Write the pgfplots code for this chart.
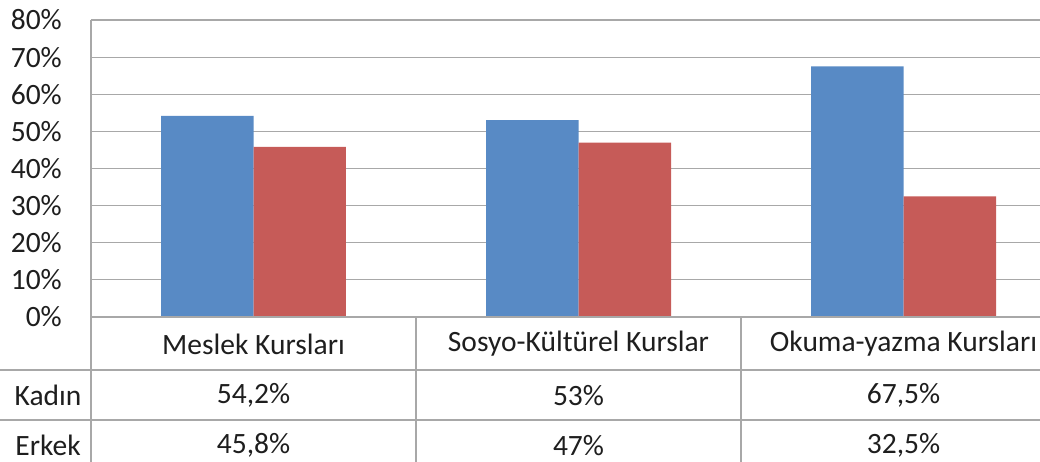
\documentclass[border=0pt]{standalone}
\usepackage{fontspec}
\setmainfont{Carlito}
\usepackage{pgfplots}
\pgfplotsset{compat=1.18}
\definecolor{kadin}{RGB}{88,138,197}
\definecolor{erkek}{RGB}{198,91,88}
\definecolor{gridgray}{RGB}{168,168,168}
\definecolor{txt}{RGB}{30,30,30}

\begin{document}
\begin{tikzpicture}[font=\fontsize{29.5}{34}\selectfont, text=txt]
\path[use as bounding box] (-91pt,-144pt) rectangle (949pt,317pt);
\begin{axis}[
  scale only axis,
  width=949pt,
  height=297pt,
  xmin=-0.5, xmax=2.42,
  ymin=0, ymax=80,
  ytick={0,10,...,80},
  yticklabels={0\%,10\%,20\%,30\%,40\%,50\%,60\%,70\%,80\%},
  xtick=\empty,
  major tick length=0pt,
  yticklabel style={anchor=east, inner sep=0pt, xshift=-29pt, text=txt},
  ymajorgrids,
  grid style={gridgray, line width=1.2pt},
  axis line style={draw=none},
  clip=false,
  ybar,
  bar width=0.2846,
]
\addplot[fill=kadin, draw=none, bar shift=-0.1423] coordinates {(0,54.2) (1,53) (2,67.5)};
\addplot[fill=erkek, draw=none, bar shift=0.1423] coordinates {(0,45.8) (1,47) (2,32.5)};

% table lines
\draw[gridgray, line width=1.2pt] (axis cs:-0.5,80) -- (axis cs:-0.5,-40);
\draw[gridgray, line width=1.2pt] (axis cs:0.5,0) -- (axis cs:0.5,-40);
\draw[gridgray, line width=1.2pt] (axis cs:1.5,0) -- (axis cs:1.5,-40);
\draw[gridgray, line width=1.2pt] (axis cs:-0.5,0) -- (axis cs:2.5,0);
\draw[gridgray, line width=1.2pt] (axis cs:-0.8,-14.28) -- (axis cs:2.5,-14.28);
\draw[gridgray, line width=1.2pt] (axis cs:-0.8,-27.74) -- (axis cs:2.5,-27.74);

% category names
\node at (axis cs:0,-7.27) {Meslek Kursları};
\node at (axis cs:1,-7.27) {Sosyo-Kültürel Kurslar};
\node at (axis cs:2,-7.27) {Okuma-yazma Kursları};
% row labels
\node at (axis cs:-0.632,-21.2) {Kadın};
\node at (axis cs:-0.632,-34.6) {Erkek};
% values
\node at (axis cs:0,-21.2) {54,2\%};
\node at (axis cs:1,-21.2) {53\%};
\node at (axis cs:2,-21.2) {67,5\%};
\node at (axis cs:0,-34.6) {45,8\%};
\node at (axis cs:1,-34.6) {47\%};
\node at (axis cs:2,-34.6) {32,5\%};
\end{axis}
\end{tikzpicture}
\end{document}
